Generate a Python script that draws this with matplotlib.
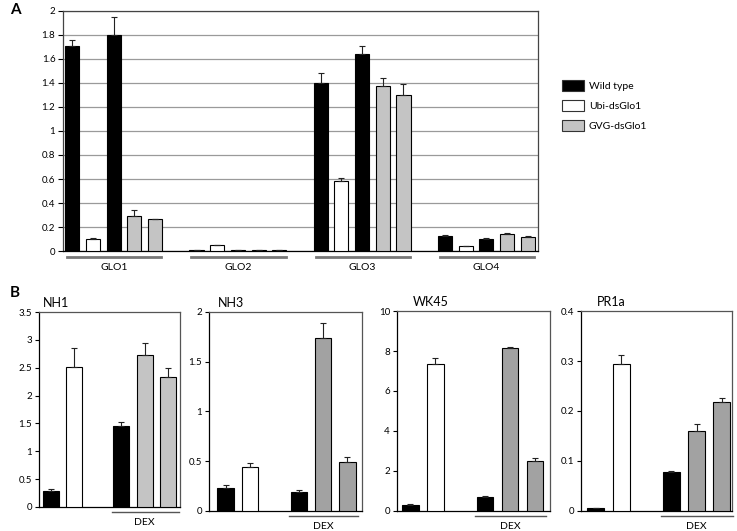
import matplotlib
matplotlib.use("Agg")
import matplotlib.pyplot as plt
from matplotlib.patches import Patch
from matplotlib.ticker import FormatStrFormatter

plt.rcParams['font.family'] = ['Lato', 'DejaVu Sans']

# ---- data, panel A ----
genes_a = ['GLO1', 'GLO2', 'GLO3', 'GLO4']
glo1_vals = [1.71, 0.10, 1.80, 0.29, 0.265]
glo1_err = [0.05, 0.01, 0.15, 0.05, 0.004]
glo2_vals = [0.008, 0.047, 0.005, 0.005, 0.005]
glo2_err = [0.002, 0.005, 0.002, 0.002, 0.002]
glo3_vals = [1.40, 0.585, 1.645, 1.375, 1.30]
glo3_err = [0.08, 0.02, 0.06, 0.07, 0.09]
glo4_vals = [0.125, 0.04, 0.10, 0.14, 0.12]
glo4_err = [0.01, 0.004, 0.005, 0.01, 0.005]
legend_labels = ['Wild type', 'Ubi-dsGlo1', 'GVG-dsGlo1']

# ---- data, panel B ----
genes_b = ['NH1', 'NH3', 'WK45', 'PR1a']
nh1_vals = [0.29, 2.52, 1.46, 2.73, 2.34]
nh1_err = [0.03, 0.34, 0.06, 0.21, 0.15]
nh3_vals = [0.235, 0.44, 0.19, 1.74, 0.495]
nh3_err = [0.025, 0.045, 0.02, 0.15, 0.05]
wk45_vals = [0.32, 7.35, 0.68, 8.15, 2.5]
wk45_err = [0.03, 0.28, 0.07, 0.05, 0.14]
pr1a_vals = [0.005, 0.295, 0.077, 0.159, 0.218]
pr1a_err = [0.0005, 0.018, 0.002, 0.014, 0.007]
b_ymax = [3.5, 2, 10, 0.4]
b_ystep = [0.5, 0.5, 2, 0.1]

BLACK, WHITE, LGRAY, DGRAY = 'black', 'white', '#c4c4c4', '#a2a2a2'

fig = plt.figure(figsize=(7.37, 5.31), dpi=100)

# ---------- panel A ----------
axA = fig.add_axes([0.0855, 0.5273, 0.6445, 0.452])
a_vals = [glo1_vals, glo2_vals, glo3_vals, glo4_vals]
a_errs = [glo1_err, glo2_err, glo3_err, glo4_err]
a_cols = [BLACK, WHITE, BLACK, LGRAY, LGRAY]
xform = axA.get_xaxis_transform()
for g, (vals, errs) in enumerate(zip(a_vals, a_errs)):
    xs = [g * 6 + i for i in range(5)]
    axA.bar(xs, vals, width=0.68, color=a_cols, edgecolor='black', linewidth=0.8,
            yerr=[[0] * 5, errs], capsize=2,
            error_kw=dict(elinewidth=0.8, capthick=0.8, ecolor='#222222'), zorder=3)
    # gray underline + gene name below each group
    axA.plot([xs[0] - 0.25, xs[-1] + 0.3], [-0.025, -0.025], transform=xform,
             color='#777777', lw=2, clip_on=False)
    axA.text((xs[0] + xs[-1]) / 2, -0.068, genes_a[g], transform=xform,
             ha='center', va='center', fontsize=7.5)

axA.set_xlim(-0.45, 22.5)
axA.set_ylim(0, 2)
axA.set_yticks([i * 0.2 for i in range(11)])
axA.yaxis.set_major_formatter(FormatStrFormatter('%g'))
axA.set_xticks([])
axA.yaxis.grid(True, color='#9a9a9a', lw=0.9)
axA.set_axisbelow(True)
axA.tick_params(axis='y', labelsize=7, length=3.5, width=0.8, pad=2)
for s in axA.spines.values():
    s.set_color('#444444')
    s.set_linewidth(0.9)
axA.spines['bottom'].set_color('black')

handles = [Patch(facecolor=c, edgecolor='#333333', linewidth=0.8)
           for c in [BLACK, WHITE, LGRAY]]
fig.legend(handles, legend_labels, loc='upper left',
           bbox_to_anchor=(561.7 / 737, 1 - 80 / 531), frameon=False,
           fontsize=7.5, handlelength=2.1, handleheight=1.25, handletextpad=0.5,
           labelspacing=0.85, borderpad=0, borderaxespad=0)

fig.text(10 / 737, 1 - 10 / 531, 'A', fontsize=11, fontweight='bold', va='center')
fig.text(10 / 737, 1 - 293 / 531, 'B', fontsize=11, fontweight='bold', va='center')

# ---------- panel B ----------
b_rects = [[0.0529, 0.0452, 0.1913, 0.3672],
           [0.2836, 0.0377, 0.2076, 0.3748],
           [0.5387, 0.0377, 0.2076, 0.3766],
           [0.7883, 0.0377, 0.2049, 0.3766]]
b_xlims = [(-0.5, 5.5), (-0.68, 5.6), (-0.53, 5.6), (-0.59, 5.4)]
b_title_x = [0.03, 0.06, 0.105, 0.105]
b_vals = [nh1_vals, nh3_vals, wk45_vals, pr1a_vals]
b_errs = [nh1_err, nh3_err, wk45_err, pr1a_err]
b_pos = [0, 1, 3, 4, 5]

for k in range(4):
    ax = fig.add_axes(b_rects[k])
    gray = LGRAY if k == 0 else DGRAY
    cols = [BLACK, WHITE, BLACK, gray, gray]
    ax.bar(b_pos, b_vals[k], width=0.67, color=cols, edgecolor='black', linewidth=0.8,
           yerr=[[0] * 5, b_errs[k]], capsize=2,
           error_kw=dict(elinewidth=0.8, capthick=0.8, ecolor='#222222'), zorder=3)
    ax.set_xlim(*b_xlims[k])
    ax.set_ylim(0, b_ymax[k])
    n = int(round(b_ymax[k] / b_ystep[k]))
    ax.set_yticks([i * b_ystep[k] for i in range(n + 1)])
    ax.yaxis.set_major_formatter(FormatStrFormatter('%g'))
    ax.set_xticks([])
    ax.tick_params(axis='y', labelsize=7, length=3, width=0.8, pad=2)
    for s in ax.spines.values():
        s.set_color('#555555')
        s.set_linewidth(0.9)
    ax.spines['bottom'].set_color('black')
    ax.spines['left'].set_color('black')
    # DEX bracket under the last three bars
    tr = ax.get_xaxis_transform()
    ax.plot([2.6, 5.45], [-0.024, -0.024], transform=tr, color='#555555', lw=1,
            clip_on=False)
    ax.text(4.0, -0.078, 'DEX', transform=tr, ha='center', va='center', fontsize=7.5)
    ax.text(b_title_x[k], 1.025, genes_b[k], transform=ax.transAxes,
            ha='left', va='baseline', fontsize=9)

fig.savefig('out.png', dpi=100)
